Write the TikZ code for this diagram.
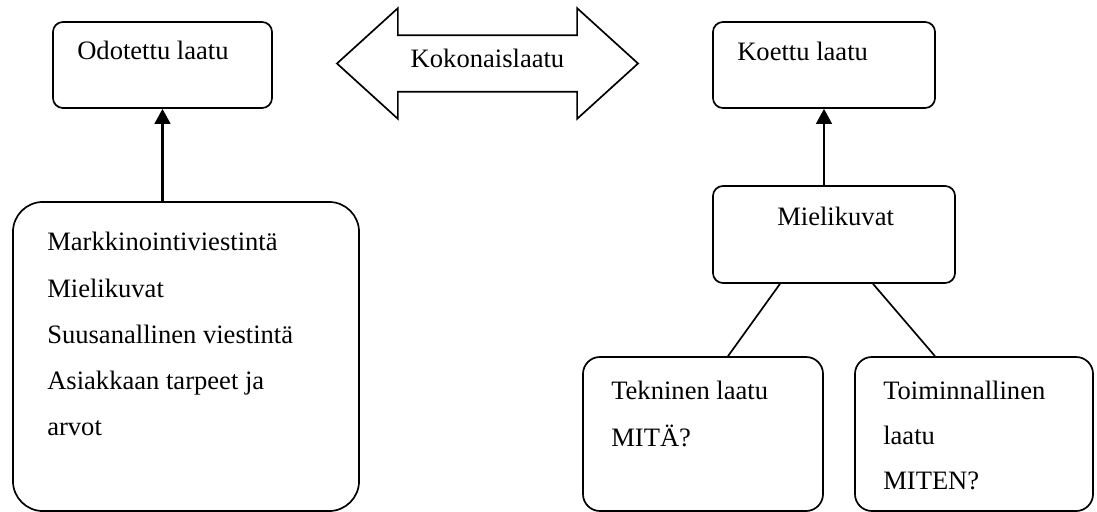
\documentclass[tikz,border=0pt]{standalone}
\usepackage{fontspec}
\setmainfont{Liberation Serif}
\usepackage{tikz}
\usetikzlibrary{shapes.arrows, arrows.meta, positioning}

\begin{document}
\begin{tikzpicture}[
    x=0.025cm, y=-0.025cm,
    box/.style={rectangle, draw, line width=1.2pt, rounded corners=0.25cm},
    bigbox/.style={box, rounded corners=0.75cm},
    midbox/.style={box, rounded corners=0.425cm},
    txt/.style={inner sep=0pt, anchor=base west, font=\fontsize{18.9}{22}\selectfont},
    arrow/.style={-{Triangle[length=10.7pt, width=11.2pt]}, line width=1.6pt},
    link/.style={line width=1.2pt}
]
\useasboundingbox (0,0) rectangle (1097,512);

% Upper boxes
\node[box, minimum width=5.475cm, minimum height=2.15cm] (odo) at (162.5,65) {};
\node[box, minimum width=5.55cm, minimum height=2.15cm] (koe) at (824,65) {};
\node[txt] (odotxt) at (77,60) {Odotettu laatu};
\node[txt] (koetxt) at (737,61) {Koettu laatu};

% Total quality arrow
\node[double arrow, draw, line width=1.2pt, minimum height=7.525cm,
      double arrow head extend=19.2pt, double arrow tip angle=84.5,
      text height=9pt, text depth=4pt, inner ysep=13.05pt, inner xsep=0pt,
      font=\fontsize{18.9}{22}\selectfont] (koko) at (487.5,63.5) {Kokonaislaatu};

% Expected quality sources
\node[bigbox, minimum width=8.65cm, minimum height=7.725cm] (mark) at (186,356.5) {};
\foreach \t [count=\i] in {Markkinointiviestintä, Mielikuvat, Suusanallinen viestintä, Asiakkaan tarpeet ja, arvot}
    \node[txt] (mark-\i) at (47,250.7+46.3*\i-46.3) {\t};

% Experienced quality
\node[box, minimum width=6.05cm, minimum height=2.425cm] (mie) at (834,234.5) {};
\node[txt] (mietxt) at (777,225) {Mielikuvat};
\node[midbox, minimum width=6cm, minimum height=3.85cm] (tek) at (703,434) {};
\node[midbox, minimum width=5.95cm, minimum height=3.85cm] (toi) at (974,434) {};
\node[txt] (tek-1) at (611,399) {Tekninen laatu};
\node[txt] (tek-2) at (611,446) {MITÄ?};
\node[txt] (toi-1) at (883,399) {Toiminnallinen};
\node[txt] (toi-2) at (883,444) {laatu};
\node[txt] (toi-3) at (883,489) {MITEN?};

% Connectors
\draw[arrow] (mark.north -| odo.south) -- (odo.south);
\draw[arrow] (mie.north -| koe.south) -- (koe.south);
\draw[link] ([xshift=-1.35cm]mie.south) -- ([xshift=0.625cm]tek.north);
\draw[link] ([xshift=0.975cm]mie.south) -- ([xshift=-0.975cm]toi.north);
\end{tikzpicture}
\end{document}
